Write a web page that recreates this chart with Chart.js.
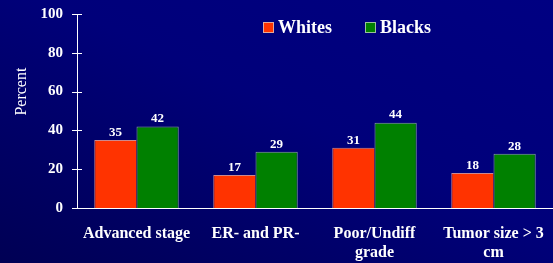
<!DOCTYPE html>
<html>
<head>
<meta charset="utf-8">
<script src="https://cdn.jsdelivr.net/npm/chart.js@4"></script>
<style>
  html, body { margin: 0; padding: 0; }
  body {
    width: 553px; height: 263px; overflow: hidden;
    background: linear-gradient(205deg, #000082 0%, #00007a 45%, #000054 100%);
  }
  canvas { display: block; }
</style>
</head>
<body>
<canvas id="chart" width="553" height="263"></canvas>
<script>
const categories = ['Advanced stage', 'ER- and PR-', ['Poor/Undiff', 'grade'], ['Tumor size > 3', 'cm']];
const whites = [35, 17, 31, 18];
const blacks = [42, 29, 44, 28];
const yTicks = [0, 20, 40, 60, 80, 100];
const yTitle = 'Percent';

const serif = '"Liberation Serif", "Times New Roman", serif';

// tick marks crossing the y axis, plus the axis title
const yTickMarks = {
    id: 'yTickMarks',
    afterDraw(chart) {
        const ctx = chart.ctx;
        const y = chart.scales.y;
        ctx.save();
        ctx.strokeStyle = '#ffffff';
        ctx.lineWidth = 1;
        yTicks.forEach(v => {
            const py = Math.round(y.getPixelForValue(v)) + 0.5;
            ctx.beginPath();
            ctx.moveTo(y.right - 5, py);
            ctx.lineTo(y.right + 5, py);
            ctx.stroke();
        });
        // title sits a bit above the middle of the axis
        ctx.translate(22, y.getPixelForValue(60));
        ctx.rotate(-Math.PI / 2);
        ctx.fillStyle = '#ffffff';
        ctx.font = '16px ' + serif;
        ctx.textAlign = 'center';
        ctx.textBaseline = 'middle';
        ctx.fillText(yTitle, 0, 0);
        ctx.restore();
    }
};

// value labels over each bar
const valueLabels = {
    id: 'valueLabels',
    afterDatasetsDraw(chart) {
        const ctx = chart.ctx;
        ctx.save();
        ctx.fillStyle = '#ffffff';
        ctx.font = 'bold 13px ' + serif;
        ctx.textAlign = 'center';
        ctx.textBaseline = 'bottom';
        chart.data.datasets.forEach((ds, i) => {
            chart.getDatasetMeta(i).data.forEach((bar, j) => {
                ctx.fillText(ds.data[j], bar.x, bar.y - 1);
            });
        });
        ctx.restore();
    }
};

// legend drawn by hand at its spot in the plot
const customLegend = {
    id: 'customLegend',
    afterDraw(chart) {
        const ctx = chart.ctx;
        const spots = [263, 365];
        ctx.save();
        ctx.font = 'bold 18px ' + serif;
        ctx.textBaseline = 'middle';
        chart.data.datasets.forEach((ds, i) => {
            const x = spots[i];
            ctx.fillStyle = ds.backgroundColor;
            ctx.fillRect(x, 22, 11, 11);
            ctx.strokeStyle = 'rgba(220,220,220,0.7)';
            ctx.strokeRect(x + 0.5, 22.5, 10, 10);
            ctx.fillStyle = '#ffffff';
            ctx.fillText(ds.label, x + 15, 28);
        });
        ctx.restore();
    }
};

new Chart(document.getElementById('chart'), {
    type: 'bar',
    data: {
        labels: categories,
        datasets: [
            {
                label: 'Whites',
                data: whites,
                backgroundColor: '#ff3300',
                borderColor: 'rgba(255,170,150,0.8)',
                borderWidth: { top: 1, left: 1, right: 0, bottom: 0 }
            },
            {
                label: 'Blacks',
                data: blacks,
                backgroundColor: '#008000',
                borderColor: 'rgba(170,200,170,0.8)',
                borderWidth: { top: 1, left: 1, right: 1, bottom: 0 }
            }
        ]
    },
    options: {
        responsive: false,
        animation: false,
        layout: { padding: { top: 14, right: 0, left: 0, bottom: 0 } },
        plugins: {
            legend: { display: false },
            tooltip: { enabled: false }
        },
        datasets: {
            bar: { categoryPercentage: 0.71, barPercentage: 1.0 }
        },
        scales: {
            x: {
                grid: { display: false, drawTicks: false },
                border: { color: '#ffffff', width: 1 },
                ticks: {
                    color: '#ffffff',
                    font: { family: serif, size: 16, weight: 'bold' },
                    padding: 16,
                    maxRotation: 0,
                    autoSkip: false
                },
                afterFit(scale) {
                    scale.height = 55;
                    scale.paddingLeft = 0;
                    scale.paddingRight = 0;
                }
            },
            y: {
                min: 0,
                max: 100,
                afterBuildTicks(scale) { scale.ticks = yTicks.map(v => ({ value: v })); },
                grid: { display: false, drawTicks: false },
                border: { color: '#ffffff', width: 1 },
                ticks: {
                    color: '#ffffff',
                    font: { family: serif, size: 15, weight: 'bold' },
                    padding: 14
                },
                afterFit(scale) {
                    scale.width = 77;
                    scale.paddingTop = 0;
                    scale.paddingBottom = 0;
                }
            }
        }
    },
    plugins: [yTickMarks, valueLabels, customLegend]
});
</script>
</body>
</html>
